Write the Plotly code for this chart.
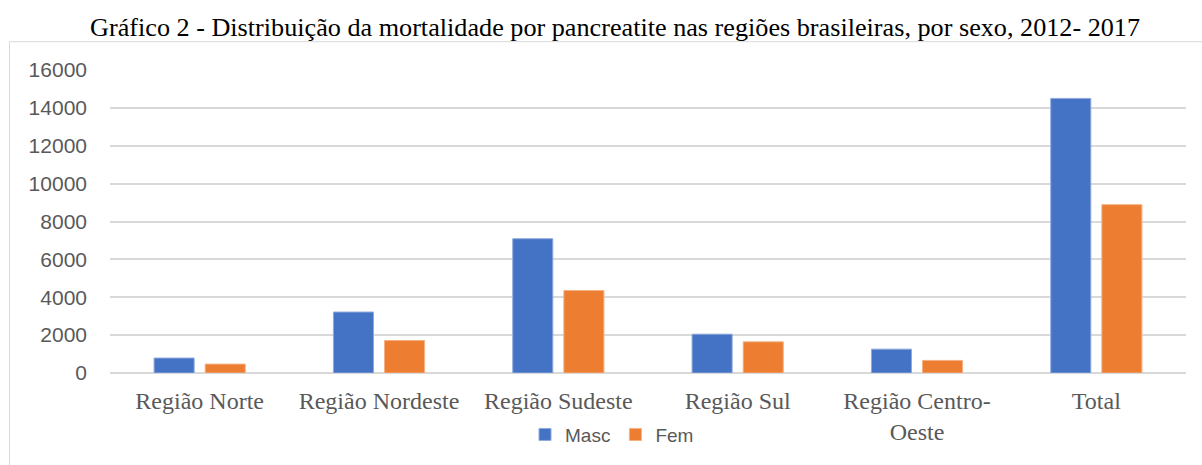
import plotly.graph_objects as go

categories = ["Região Norte", "Região Nordeste", "Região Sudeste", "Região Sul",
              "Região Centro-<br>Oeste", "Total"]
masc = [790, 3220, 7090, 2050, 1260, 14500]
fem = [470, 1715, 4355, 1645, 665, 8890]
y_ticks = [0, 2000, 4000, 6000, 8000, 10000, 12000, 14000, 16000]
title_text = "Gráfico 2 - Distribuição da mortalidade por pancreatite nas regiões brasileiras, por sexo, 2012- 2017"

BLUE = "#4472C4"
ORANGE = "#ED7D31"
GRID = "#D9D9D9"
TXT = "#595959"

fig = go.Figure()
fig.add_trace(go.Bar(name="Masc", x=categories, y=masc, marker=dict(color=BLUE, line=dict(color="#8FAADC", width=1))))
fig.add_trace(go.Bar(name="Fem", x=categories, y=fem, marker=dict(color=ORANGE, line=dict(color="#F4B183", width=1))))

L, R, T, B = 110, 16, 70, 90
W, H = 1202, 465
pw, ph = W - L - R, H - T - B

def px_x(x):
    return (x - L) / pw

def px_y(y):
    return (H - B - y) / ph

fig.update_layout(
    width=W, height=H,
    margin=dict(l=L, r=R, t=T, b=B),
    paper_bgcolor="white", plot_bgcolor="white",
    barmode="group", bargap=0.43, bargroupgap=0.216,
    showlegend=True,
    legend=dict(orientation="h", x=px_x(612), y=px_y(437), xanchor="center", yanchor="middle",
                font=dict(family="Liberation Sans, Arial", size=19, color=TXT),
                itemwidth=30, tracegroupgap=0, bgcolor="rgba(0,0,0,0)"),
    xaxis=dict(showgrid=False, showline=False, zeroline=False,
               tickfont=dict(family="Liberation Serif, Times New Roman", size=24, color=TXT),
               ticklabelstandoff=11),
    yaxis=dict(range=[0, 16000], tickvals=y_ticks, tickformat="d",
               showgrid=True, gridcolor=GRID, gridwidth=1.5,
               zeroline=True, zerolinecolor=GRID, zerolinewidth=1.5, showline=False,
               tickfont=dict(family="Liberation Sans, Arial", size=21, color=TXT),
               ticklabelstandoff=22),
    annotations=[dict(text=title_text, xref="paper", yref="paper", x=px_x(615), y=px_y(27),
                      xanchor="center", yanchor="middle", showarrow=False,
                      font=dict(family="Liberation Serif, Times New Roman", size=26.2, color="black"))],
    shapes=[dict(type="rect", xref="paper", yref="paper", x0=px_x(9.5), x1=px_x(1210),
                 y0=px_y(475), y1=px_y(41.5), line=dict(color=GRID, width=1), layer="below")],
)

fig.write_html("out.html", config={"displayModeBar": False},
               post_script="document.body.style.margin='0';document.body.style.overflow='hidden';")
